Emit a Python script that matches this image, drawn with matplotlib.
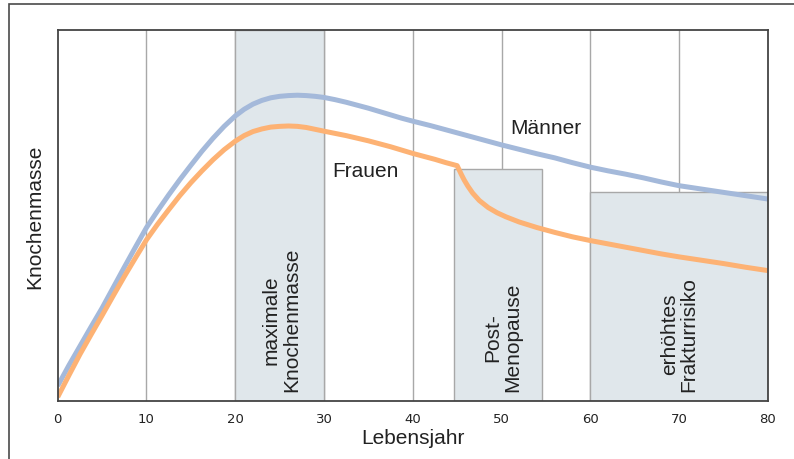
import matplotlib.pyplot as plt
from matplotlib.patches import Rectangle

# Altersachse und Knochenmasse (Skala 0-100)
alter_m = [0, 1.25, 2.5, 3.75, 5, 6.25, 7.5, 8.75, 10, 11.25, 12.5, 13.75, 15, 16.25,
           17.5, 18.75, 20, 21, 22, 23, 24, 25, 26, 27, 28, 29, 30, 31.25, 32.5, 33.75,
           35, 36.25, 37.5, 38.75, 40, 42, 44, 46, 48, 50, 52, 54, 56, 58, 60, 62, 64,
           66, 68, 70, 72.5, 75, 77.5, 80]
maenner = [4, 9.5, 14.7, 19.9, 25, 30.5, 36, 41.4, 46.7, 51.2, 55.5, 59.6, 63.5, 67.3,
           70.8, 74, 76.8, 78.6, 80, 81, 81.7, 82.1, 82.3, 82.4, 82.3, 82.1, 81.8, 81.2,
           80.5, 79.7, 78.9, 78, 77.1, 76.2, 75.4, 74.2, 72.9, 71.6, 70.3, 69, 67.8,
           66.6, 65.5, 64.2, 63, 62, 61.1, 60.1, 59, 58, 57.1, 56.2, 55.3, 54.4]

alter_f = [0, 1.25, 2.5, 3.75, 5, 6.25, 7.5, 8.75, 10, 11.25, 12.5, 13.75, 15, 16.25,
           17.5, 18.75, 20, 21, 22, 23, 24, 25, 26, 27, 28, 29, 30, 31.25, 32.5, 33.75,
           35, 36.25, 37.5, 38.75, 40, 41.25, 42.5, 43.75, 45, 45.2, 45.5, 45.8, 46.2,
           46.75, 47.5, 48.5, 49.5, 50.5, 52, 54, 56, 58, 60, 62, 64, 66, 68, 70, 72.5,
           75, 77.5, 80]
frauen = [1, 6.8, 12.5, 17.8, 23, 28.3, 33.5, 38.5, 43.4, 47.6, 51.5, 55.3, 58.8, 62,
          65, 67.7, 70, 71.5, 72.6, 73.3, 73.8, 74, 74.1, 74, 73.7, 73.2, 72.7, 72.1,
          71.5, 70.8, 70.1, 69.3, 68.5, 67.6, 66.7, 65.9, 65.1, 64.2, 63.4, 62.4, 60.9,
          59.5, 57.9, 56, 54, 52.1, 50.7, 49.6, 48.2, 46.7, 45.4, 44.2, 43.2, 42.3,
          41.4, 40.5, 39.6, 38.8, 37.9, 37, 36, 35.1]

# Bereiche: (start, ende, hoehe, beschriftung, textmitte)
bereiche = [
    (20, 30, 100, "maximale\nKnochenmasse", 25.2),
    (44.7, 54.6, 62.6, "Post-\nMenopause", 50.1),
    (60, 80, 56.4, "erhöhtes\nFrakturrisiko", 70),
]
xticks = [0, 10, 20, 30, 40, 50, 60, 70, 80]

plt.rcParams['font.family'] = ['Liberation Sans', 'DejaVu Sans']

fig = plt.figure(figsize=(7.94, 4.6), dpi=100)
ax = fig.add_axes([0.0727, 0.1267, 0.8943, 0.806])

# Rahmen um die Grafik
fig.patches.append(Rectangle((9 / 794, -0.1), 1.2, 1.1 - 5 / 460, transform=fig.transFigure,
                             fill=False, edgecolor='#4a4a4a', linewidth=1.2, zorder=0))

for xv in xticks[1:-1]:
    ax.axvline(xv, color='#a8a8a8', linewidth=1.0, zorder=1)

for start, ende, hoehe, text, mitte in bereiche:
    ax.add_patch(Rectangle((start, 0), ende - start, hoehe, facecolor='#e0e7eb',
                           edgecolor='#a8a8a8', linewidth=1.0, zorder=2))
    ax.text(mitte, 2.6, text, rotation=90, ha='center', va='bottom', fontsize=15,
            color='#222222', linespacing=1.05, zorder=5)

ax.plot(alter_m, maenner, color='#a4b9da', linewidth=3.6, solid_capstyle='butt',
        solid_joinstyle='round', zorder=4)
ax.plot(alter_f, frauen, color='#fdb274', linewidth=3.6, solid_capstyle='butt',
        solid_joinstyle='round', zorder=4)

ax.text(55, 73.6, "Männer", ha='center', va='center', fontsize=15, color='#222222')
ax.text(34.7, 62, "Frauen", ha='center', va='center', fontsize=15, color='#222222')

ax.set_xlim(0, 80)
ax.set_ylim(0, 100)
ax.set_xticks(xticks)
ax.set_xticklabels([str(v) for v in xticks], family='DejaVu Sans', fontsize=9.5, color='#222222')
ax.set_yticks([])
ax.tick_params(axis='x', length=0, pad=8)
for s in ax.spines.values():
    s.set_color('#444444')
    s.set_linewidth(1.3)
    s.set_zorder(6)

ax.set_xlabel("Lebensjahr", fontsize=15, color='#222222', labelpad=2)
ax.set_ylabel("Knochenmasse", fontsize=15, color='#222222', labelpad=10)

fig.savefig("out.png", dpi=100)
